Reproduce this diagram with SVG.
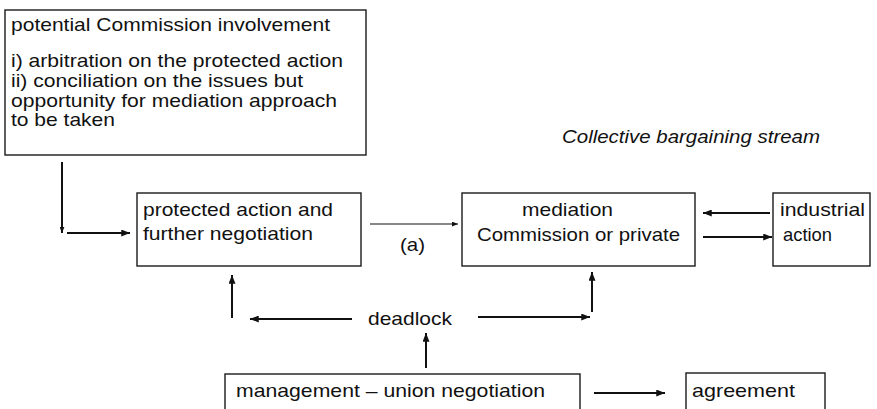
<svg xmlns="http://www.w3.org/2000/svg" width="877" height="409" viewBox="0 0 877 409">
<defs>
<style>
.box{fill:#fff;stroke:#1a1a1a;stroke-width:1.4}
.t{font-family:"Liberation Sans",Arial,sans-serif;font-size:19px;fill:#111}
.it{font-style:italic}
.c{fill:none;stroke:#111;stroke-width:2}
.thin{stroke-width:1.2}
</style>
<marker id="ah" viewBox="0 0 10 8" refX="10" refY="4" markerWidth="9" markerHeight="7" markerUnits="userSpaceOnUse" orient="auto">
<path d="M0,0 L10,4 L0,8 z" fill="#111"/>
</marker>
<marker id="ahs" viewBox="0 0 10 8" refX="10" refY="4" markerWidth="6" markerHeight="5" markerUnits="userSpaceOnUse" orient="auto">
<path d="M0,0 L10,4 L0,8 z" fill="#111"/>
</marker>
</defs>
<rect width="877" height="409" fill="#fff"/>

<g id="commission">
<rect class="box" x="5" y="10" width="361" height="145"/>
<text class="t" x="11" y="31" textLength="319" lengthAdjust="spacingAndGlyphs">potential Commission involvement</text>
<text class="t" x="11" y="67" textLength="332" lengthAdjust="spacingAndGlyphs">i) arbitration on the protected action</text>
<text class="t" x="11" y="87" textLength="292" lengthAdjust="spacingAndGlyphs">ii) conciliation on the issues but</text>
<text class="t" x="11" y="106.5" textLength="326" lengthAdjust="spacingAndGlyphs">opportunity for mediation approach</text>
<text class="t" x="11" y="126" textLength="104" lengthAdjust="spacingAndGlyphs">to be taken</text>
</g>

<g id="protected">
<rect class="box" x="137" y="193" width="224" height="73"/>
<text class="t" x="143" y="216" textLength="190" lengthAdjust="spacingAndGlyphs">protected action and</text>
<text class="t" x="143" y="240" textLength="170" lengthAdjust="spacingAndGlyphs">further negotiation</text>
</g>

<g id="mediation">
<rect class="box" x="462" y="193" width="233" height="73"/>
<text class="t" x="522" y="216" textLength="91" lengthAdjust="spacingAndGlyphs">mediation</text>
<text class="t" x="477" y="241" textLength="203" lengthAdjust="spacingAndGlyphs">Commission or private</text>
</g>

<g id="industrial">
<rect class="box" x="773" y="193" width="97" height="73"/>
<text class="t" x="780" y="216" textLength="85" lengthAdjust="spacingAndGlyphs">industrial</text>
<text class="t" x="783" y="241" textLength="49" lengthAdjust="spacingAndGlyphs">action</text>
</g>

<g id="deadlock">
<text class="t" x="368" y="325" textLength="84" lengthAdjust="spacingAndGlyphs">deadlock</text>
</g>

<g id="management">
<rect class="box" x="225" y="374" width="355" height="45"/>
<text class="t" x="236" y="397" textLength="309" lengthAdjust="spacingAndGlyphs">management – union negotiation</text>
</g>

<g id="agreement">
<rect class="box" x="686" y="373" width="139" height="46"/>
<text class="t" x="692" y="397" textLength="103" lengthAdjust="spacingAndGlyphs">agreement</text>
</g>

<g id="stream-label">
<text class="t it" x="562" y="143" textLength="258" lengthAdjust="spacingAndGlyphs">Collective bargaining stream</text>
</g>

<g id="connectors">
<path class="c" d="M62,162 V233" marker-end="url(#ahs)"/>
<path class="c" d="M67,233 H130" marker-end="url(#ah)"/>
<path class="c thin" d="M370,224 H458" marker-end="url(#ahs)"/>
<text class="t" x="400" y="251" textLength="25" lengthAdjust="spacingAndGlyphs">(a)</text>
<path class="c" d="M770,213 H703" marker-end="url(#ah)"/>
<path class="c" d="M703,237 H772" marker-end="url(#ah)"/>
<path class="c" d="M232,318 V275" marker-end="url(#ah)"/>
<path class="c" d="M352,319 H250" marker-end="url(#ah)"/>
<path class="c" d="M478,317 H590" marker-end="url(#ah)"/>
<path class="c" d="M592,312 V272" marker-end="url(#ah)"/>
<path class="c" d="M426,368 V333" marker-end="url(#ah)"/>
<path class="c" d="M594,393 H665" marker-end="url(#ah)"/>
</g>
</svg>
